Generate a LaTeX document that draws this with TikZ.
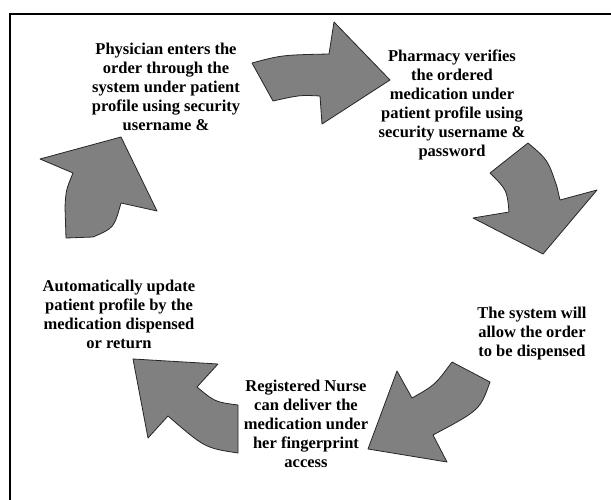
\documentclass[tikz,border=0pt]{standalone}
\usepackage{fontspec}
\setmainfont{Liberation Serif}
\begin{document}
\begin{tikzpicture}[x=1pt,y=-1pt,line width=.8pt,
  blockarrow/.style={fill=gray,draw=black!85,line join=round},
  steptext/.style={align=center,inner sep=0pt,font=\bfseries\fontsize{16.5}{19}\selectfont}]
 \useasboundingbox (0,0) rectangle (611,500);
 \draw[line width=1.6pt] (611,14) -| (10,500);
 \node[steptext] (physician) at (166,87) {Physician enters the\\order through the\\system under patient\\profile using security\\username \&};
 \node[steptext] (pharmacy) at (452,105) {Pharmacy verifies\\the ordered\\medication under\\patient profile using\\security username \&\\password};
 \node[steptext] (system) at (532,334) {The system will\\allow the order\\to be dispensed};
 \node[steptext] (nurse) at (306,424) {Registered Nurse\\can deliver the\\medication under\\her fingerprint\\access};
 \node[steptext] (update) at (119,314) {Automatically update\\patient profile by the\\medication dispensed\\or return};
 \draw[blockarrow] (252,63) .. controls (282,55) .. (329,54) -- (334,22) -- (390,80)
   -- (322,124) -- (320,96) .. controls (300,95) .. (273,101) -- cycle;
 \draw[blockarrow] (490,173) -- (528,143) .. controls (548,160) .. (557,187) -- (560,200)
   -- (597,190) -- (543,254) -- (473,218) -- (509,212) .. controls (507,190) .. (490,173);
 \draw[blockarrow] (452,362) -- (490,382) .. controls (480,410) .. (433,435) -- (447,462)
   -- (368,449) -- (397,371) -- (412,398) .. controls (435,385) .. (452,362);
 \draw[blockarrow] (133,359) -- (218,364) -- (197,387) .. controls (215,402) .. (238,405)
   -- (238,453) .. controls (205,448) .. (168,416) -- (148,438) -- cycle;
 \draw[blockarrow] (121,137) -- (157,211) -- (121,203) .. controls (114,228) .. (93,237)
   -- (66,238) -- (65,207) .. controls (66,190) .. (73,173) -- (40,159) -- cycle;
\end{tikzpicture}
\end{document}
